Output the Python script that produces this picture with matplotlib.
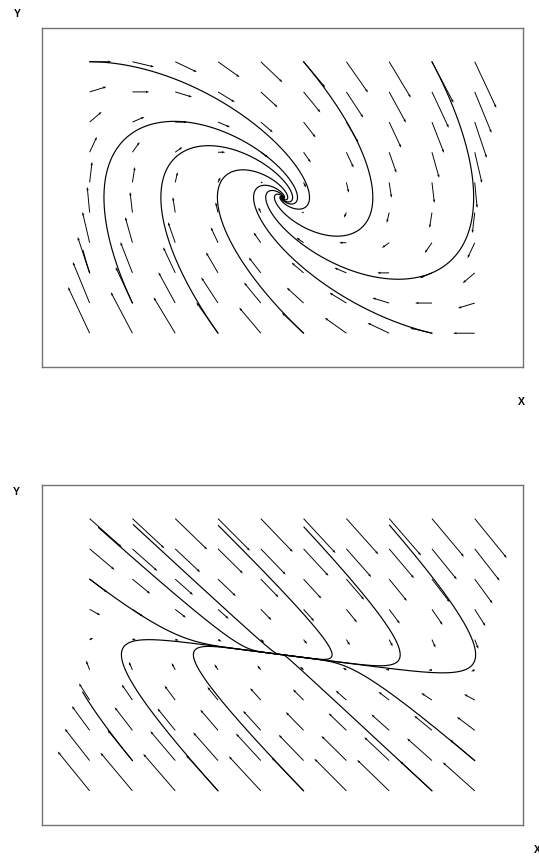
import numpy as np
import matplotlib
matplotlib.use("Agg")
import matplotlib.pyplot as plt

# grid of the direction field (10 x 10)
grid = np.linspace(-4.5, 4.5, 10)
lim = 5.62

# top: spiral sink, bottom: stable node
A_top = [[0.0, 0.66], [-1.0, -1.0]]
A_bot = [[0.0, 1.0], [-0.24, -1.5]]
scale_top = 0.17
scale_bot = 0.166

# initial conditions of the drawn trajectories
starts_top = [(-4.5, 4.5), (0.5, 4.5), (3.5, 4.5), (3.5, -4.5), (0.5, -4.5),
              (-1.5, -4.5), (-3.5, -3.5), (-4.5, -2.5)]
starts_bot = [(-4.29, 4.2), (-3.48, 4.3), (-1.49, 4.27), (0.51, 4.22), (2.51, 4.28),
              (-4.5, 2.5), (3.5, -4.5), (4.5, -3.5), (0.5, -4.5), (-1.5, -4.5),
              (-3.5, -3.5)]
box = 4.65


def field(A, x, y):
    return A[0][0]*x + A[0][1]*y, A[1][0]*x + A[1][1]*y


def traj(A, p, dt=0.01, nmax=40000):
    xs = [p[0]]
    ys = [p[1]]
    x, y = p
    for i in range(nmax):
        k1 = field(A, x, y)
        k2 = field(A, x + dt/2*k1[0], y + dt/2*k1[1])
        k3 = field(A, x + dt/2*k2[0], y + dt/2*k2[1])
        k4 = field(A, x + dt*k3[0], y + dt*k3[1])
        x = x + dt/6*(k1[0] + 2*k2[0] + 2*k3[0] + k4[0])
        y = y + dt/6*(k1[1] + 2*k2[1] + 2*k3[1] + k4[1])
        xs.append(x)
        ys.append(y)
        if abs(x) > box or abs(y) > box:
            break
        if x*x + y*y < 0.02**2:
            break
    return xs, ys


def panel(ax, A, s, starts):
    X, Y = np.meshgrid(grid, grid)
    U, V = field(A, X, Y)
    ax.quiver(X, Y, s*U, s*V, angles='xy', scale_units='xy', scale=1,
              width=0.002, headwidth=2.5, headlength=3.5, headaxislength=3.2,
              color='k')
    for p in starts:
        xs, ys = traj(A, p)
        ax.plot(xs, ys, color='k', lw=0.85)
    ax.set_xlim(-lim, lim)
    ax.set_ylim(-lim, lim)
    ax.set_xticks([])
    ax.set_yticks([])
    for sp in ax.spines.values():
        sp.set_color('0.45')
        sp.set_linewidth(1.0)


fig = plt.figure(figsize=(5.39, 8.62), dpi=100)
ax1 = fig.add_axes([0.0774, 0.5731, 0.8923, 0.3933])
ax2 = fig.add_axes([0.0774, 0.0421, 0.8923, 0.3944])
panel(ax1, A_top, scale_top, starts_top)
panel(ax2, A_bot, scale_bot, starts_bot)

W, H = 539, 862
kw = dict(fontsize=7.5, fontweight='bold', family='Liberation Sans')
fig.text(17.5/W, 1 - 14/H, 'Y', ha='center', va='center', **kw)
fig.text(521.7/W, 1 - 401.7/H, 'X', ha='center', va='center', **kw)
fig.text(16.5/W, 1 - 492/H, 'Y', ha='center', va='center', **kw)
fig.text(533.5/W, 1 - 850/H, 'X', ha='left', va='center', **kw)

fig.savefig('out.png', dpi=100)
